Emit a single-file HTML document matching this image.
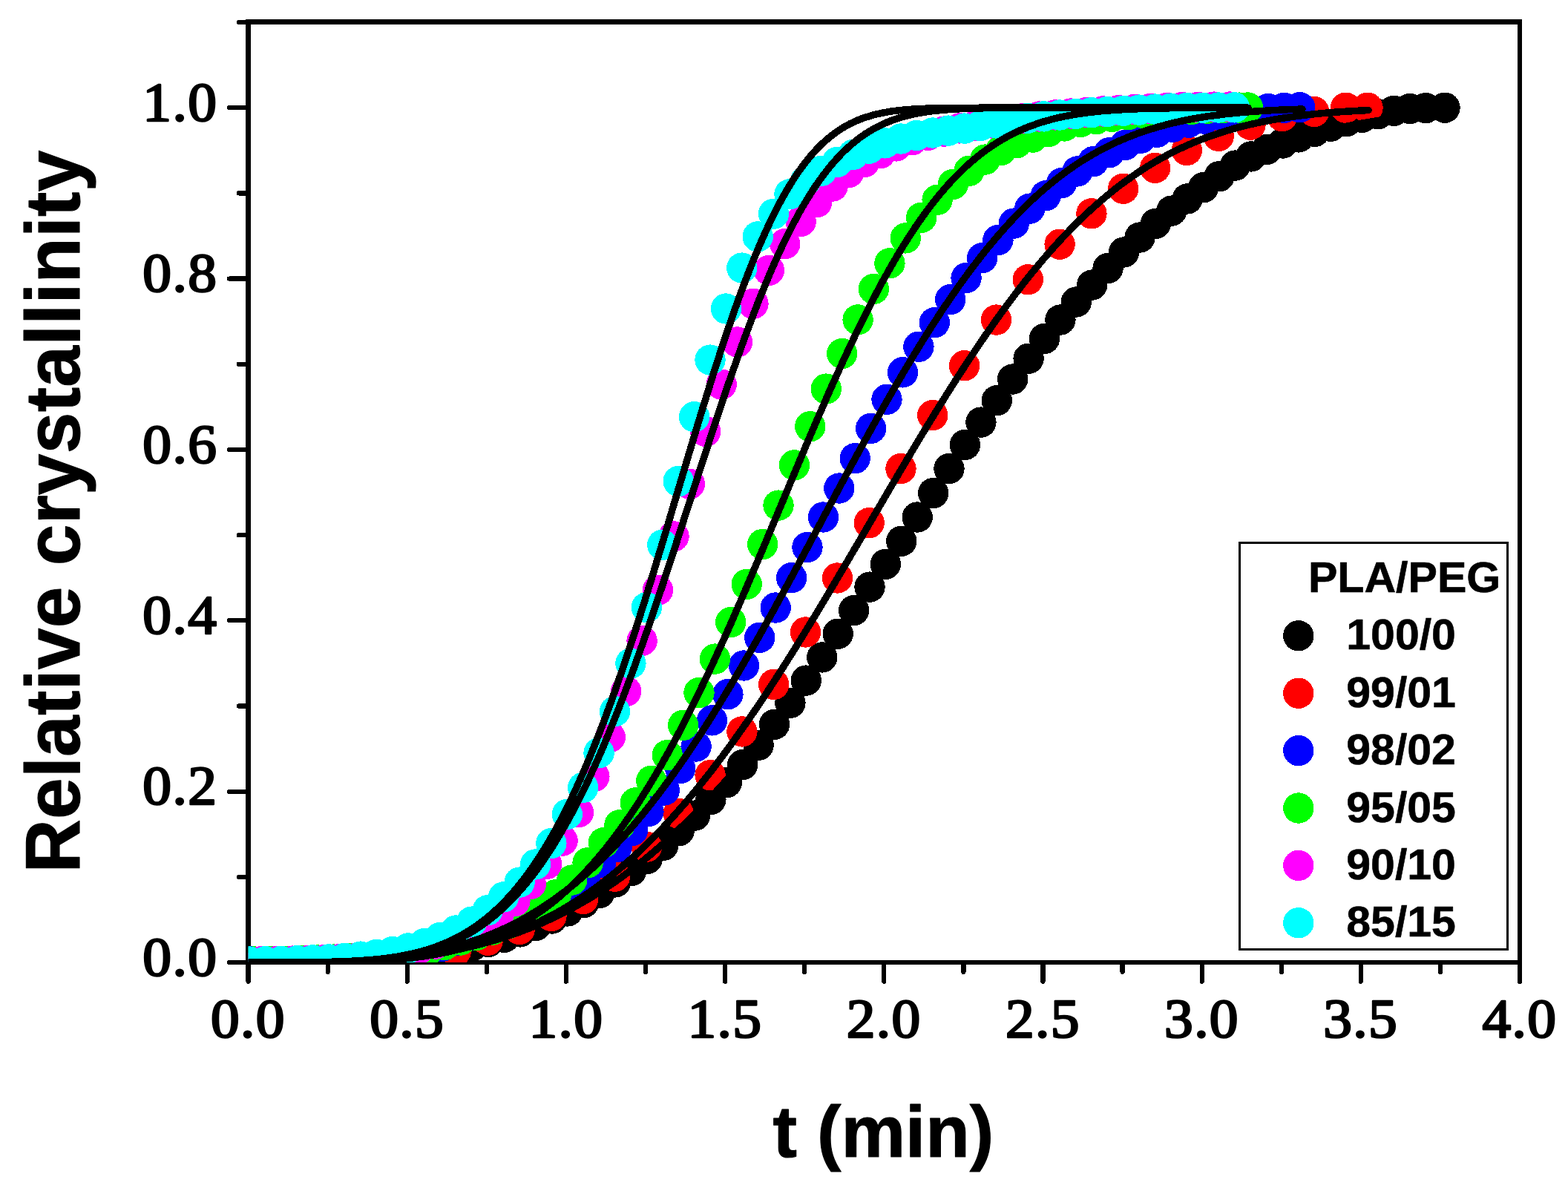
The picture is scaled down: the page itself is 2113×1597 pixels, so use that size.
<!DOCTYPE html>
<html lang="en"><head><meta charset="utf-8"><title>Relative crystallinity vs t (min) - PLA/PEG</title>
<style>html,body{margin:0;padding:0;background:#fff}body{width:2113px;height:1597px;overflow:hidden}svg{display:block}.tick{font-family:"Liberation Serif","DejaVu Serif",serif;font-size:73px;fill:#000;stroke:#000;stroke-width:2.6px;stroke-linejoin:round;letter-spacing:1.3px}.ttl{font-family:"Liberation Sans","DejaVu Sans",sans-serif;font-weight:bold;fill:#000;stroke:#000;stroke-width:1.1px;stroke-linejoin:round}.leg{font-family:"Liberation Sans","DejaVu Sans",sans-serif;font-weight:bold;font-size:58px;fill:#000;stroke:#000;stroke-width:0.6px}</style></head><body>
<svg width="2113" height="1597" viewBox="0 0 2113 1597" shape-rendering="crispEdges">
<rect x="0" y="0" width="2113" height="1597" fill="#fff"/>
<defs><clipPath id="plot"><rect x="334.60" y="29.50" width="1713.40" height="1267.60"/></clipPath></defs>
<g stroke="#000" stroke-width="6.25" stroke-linecap="round" fill="none">
<rect x="334.60" y="29.50" width="1713.40" height="1267.60" stroke-linejoin="miter"/>
<line x1="334.60" y1="1297.10" x2="334.60" y2="1322.70"/>
<line x1="441.69" y1="1297.10" x2="441.69" y2="1309.90"/>
<line x1="548.78" y1="1297.10" x2="548.78" y2="1322.70"/>
<line x1="655.86" y1="1297.10" x2="655.86" y2="1309.90"/>
<line x1="762.95" y1="1297.10" x2="762.95" y2="1322.70"/>
<line x1="870.04" y1="1297.10" x2="870.04" y2="1309.90"/>
<line x1="977.13" y1="1297.10" x2="977.13" y2="1322.70"/>
<line x1="1084.21" y1="1297.10" x2="1084.21" y2="1309.90"/>
<line x1="1191.30" y1="1297.10" x2="1191.30" y2="1322.70"/>
<line x1="1298.39" y1="1297.10" x2="1298.39" y2="1309.90"/>
<line x1="1405.47" y1="1297.10" x2="1405.47" y2="1322.70"/>
<line x1="1512.56" y1="1297.10" x2="1512.56" y2="1309.90"/>
<line x1="1619.65" y1="1297.10" x2="1619.65" y2="1322.70"/>
<line x1="1726.74" y1="1297.10" x2="1726.74" y2="1309.90"/>
<line x1="1833.83" y1="1297.10" x2="1833.83" y2="1322.70"/>
<line x1="1940.91" y1="1297.10" x2="1940.91" y2="1309.90"/>
<line x1="2048.00" y1="1297.10" x2="2048.00" y2="1322.70"/>
<line x1="334.60" y1="1297.10" x2="309.00" y2="1297.10"/>
<line x1="334.60" y1="1181.91" x2="321.80" y2="1181.91"/>
<line x1="334.60" y1="1066.72" x2="309.00" y2="1066.72"/>
<line x1="334.60" y1="951.53" x2="321.80" y2="951.53"/>
<line x1="334.60" y1="836.34" x2="309.00" y2="836.34"/>
<line x1="334.60" y1="721.15" x2="321.80" y2="721.15"/>
<line x1="334.60" y1="605.96" x2="309.00" y2="605.96"/>
<line x1="334.60" y1="490.77" x2="321.80" y2="490.77"/>
<line x1="334.60" y1="375.58" x2="309.00" y2="375.58"/>
<line x1="334.60" y1="260.39" x2="321.80" y2="260.39"/>
<line x1="334.60" y1="145.20" x2="309.00" y2="145.20"/>
<line x1="334.60" y1="30.01" x2="321.80" y2="30.01"/>
</g>
<g clip-path="url(#plot)">
<g fill="#000000">
<circle cx="337.0" cy="1296.0" r="20.7"/><circle cx="358.4" cy="1295.9" r="20.7"/><circle cx="379.8" cy="1295.7" r="20.7"/><circle cx="401.2" cy="1295.4" r="20.7"/><circle cx="422.6" cy="1294.9" r="20.7"/><circle cx="444.1" cy="1294.4" r="20.7"/><circle cx="465.5" cy="1293.7" r="20.7"/><circle cx="486.9" cy="1292.9" r="20.7"/><circle cx="508.3" cy="1292.0" r="20.7"/><circle cx="529.7" cy="1291.0" r="20.7"/><circle cx="551.1" cy="1289.9" r="20.7"/><circle cx="572.5" cy="1287.8" r="20.7"/><circle cx="593.9" cy="1284.3" r="20.7"/><circle cx="615.3" cy="1279.9" r="20.7"/><circle cx="636.7" cy="1274.8" r="20.7"/><circle cx="658.1" cy="1269.5" r="20.7"/><circle cx="679.6" cy="1263.3" r="20.7"/><circle cx="701.0" cy="1255.9" r="20.7"/><circle cx="722.4" cy="1247.4" r="20.7"/><circle cx="743.8" cy="1238.0" r="20.7"/><circle cx="765.2" cy="1227.9" r="20.7"/><circle cx="786.6" cy="1216.5" r="20.7"/><circle cx="808.0" cy="1203.4" r="20.7"/><circle cx="829.4" cy="1188.9" r="20.7"/><circle cx="850.8" cy="1173.5" r="20.7"/><circle cx="872.2" cy="1157.3" r="20.7"/><circle cx="893.7" cy="1139.4" r="20.7"/><circle cx="915.1" cy="1119.7" r="20.7"/><circle cx="936.5" cy="1099.1" r="20.7"/><circle cx="957.9" cy="1077.5" r="20.7"/><circle cx="979.3" cy="1054.7" r="20.7"/><circle cx="1000.7" cy="1030.6" r="20.7"/><circle cx="1022.1" cy="1004.3" r="20.7"/><circle cx="1043.5" cy="976.4" r="20.7"/><circle cx="1064.9" cy="947.3" r="20.7"/><circle cx="1086.3" cy="917.1" r="20.7"/><circle cx="1107.8" cy="885.9" r="20.7"/><circle cx="1129.2" cy="854.2" r="20.7"/><circle cx="1150.6" cy="822.6" r="20.7"/><circle cx="1172.0" cy="791.1" r="20.7"/><circle cx="1193.4" cy="760.3" r="20.7"/><circle cx="1214.8" cy="729.2" r="20.7"/><circle cx="1236.2" cy="697.0" r="20.7"/><circle cx="1257.6" cy="664.5" r="20.7"/><circle cx="1279.0" cy="631.6" r="20.7"/><circle cx="1300.5" cy="599.5" r="20.7"/><circle cx="1321.9" cy="569.1" r="20.7"/><circle cx="1343.3" cy="539.8" r="20.7"/><circle cx="1364.7" cy="511.0" r="20.7"/><circle cx="1386.1" cy="483.2" r="20.7"/><circle cx="1407.5" cy="456.5" r="20.7"/><circle cx="1428.9" cy="431.0" r="20.7"/><circle cx="1450.3" cy="407.0" r="20.7"/><circle cx="1471.7" cy="384.0" r="20.7"/><circle cx="1493.1" cy="361.4" r="20.7"/><circle cx="1514.5" cy="340.0" r="20.7"/><circle cx="1536.0" cy="320.0" r="20.7"/><circle cx="1557.4" cy="301.4" r="20.7"/><circle cx="1578.8" cy="284.1" r="20.7"/><circle cx="1600.2" cy="267.9" r="20.7"/><circle cx="1621.6" cy="252.8" r="20.7"/><circle cx="1643.0" cy="237.7" r="20.7"/><circle cx="1664.4" cy="223.1" r="20.7"/><circle cx="1685.8" cy="210.9" r="20.7"/><circle cx="1707.2" cy="201.4" r="20.7"/><circle cx="1728.7" cy="193.0" r="20.7"/><circle cx="1750.1" cy="184.9" r="20.7"/><circle cx="1771.5" cy="177.5" r="20.7"/><circle cx="1792.9" cy="170.3" r="20.7"/><circle cx="1814.3" cy="163.8" r="20.7"/><circle cx="1835.7" cy="158.3" r="20.7"/><circle cx="1857.1" cy="153.7" r="20.7"/><circle cx="1878.5" cy="149.3" r="20.7"/><circle cx="1899.9" cy="146.5" r="20.7"/><circle cx="1921.3" cy="145.6" r="20.7"/><circle cx="1947.0" cy="145.2" r="20.7"/>
</g>
<g fill="#ff0000">
<circle cx="357.6" cy="1295.9" r="20.7"/><circle cx="400.4" cy="1295.3" r="20.7"/><circle cx="443.2" cy="1294.3" r="20.7"/><circle cx="486.1" cy="1292.8" r="20.7"/><circle cx="528.9" cy="1291.0" r="20.7"/><circle cx="571.7" cy="1287.6" r="20.7"/><circle cx="614.5" cy="1281.4" r="20.7"/><circle cx="657.3" cy="1267.2" r="20.7"/><circle cx="700.2" cy="1252.5" r="20.7"/><circle cx="743.0" cy="1234.5" r="20.7"/><circle cx="785.8" cy="1211.5" r="20.7"/><circle cx="828.6" cy="1181.2" r="20.7"/><circle cx="871.4" cy="1141.2" r="20.7"/><circle cx="914.3" cy="1096.2" r="20.7"/><circle cx="957.1" cy="1044.7" r="20.7"/><circle cx="999.9" cy="985.9" r="20.7"/><circle cx="1042.7" cy="922.4" r="20.7"/><circle cx="1085.5" cy="852.0" r="20.7"/><circle cx="1128.4" cy="779.0" r="20.7"/><circle cx="1171.2" cy="704.7" r="20.7"/><circle cx="1214.0" cy="631.6" r="20.7"/><circle cx="1256.8" cy="559.6" r="20.7"/><circle cx="1299.6" cy="492.8" r="20.7"/><circle cx="1342.5" cy="431.1" r="20.7"/><circle cx="1385.3" cy="376.8" r="20.7"/><circle cx="1428.1" cy="329.2" r="20.7"/><circle cx="1470.9" cy="287.8" r="20.7"/><circle cx="1513.7" cy="254.2" r="20.7"/><circle cx="1556.6" cy="226.3" r="20.7"/><circle cx="1599.4" cy="202.5" r="20.7"/><circle cx="1642.2" cy="183.4" r="20.7"/><circle cx="1685.0" cy="168.2" r="20.7"/><circle cx="1727.8" cy="156.7" r="20.7"/><circle cx="1770.7" cy="150.5" r="20.7"/><circle cx="1813.5" cy="145.2" r="20.7"/><circle cx="1843.0" cy="145.2" r="20.7"/>
</g>
<g fill="#0000ff">
<circle cx="338.6" cy="1296.0" r="20.7"/><circle cx="360.1" cy="1295.9" r="20.7"/><circle cx="381.5" cy="1295.6" r="20.7"/><circle cx="402.9" cy="1295.1" r="20.7"/><circle cx="424.3" cy="1294.4" r="20.7"/><circle cx="445.7" cy="1293.6" r="20.7"/><circle cx="467.1" cy="1292.6" r="20.7"/><circle cx="488.5" cy="1291.4" r="20.7"/><circle cx="509.9" cy="1290.1" r="20.7"/><circle cx="531.3" cy="1288.6" r="20.7"/><circle cx="552.8" cy="1286.5" r="20.7"/><circle cx="574.2" cy="1281.9" r="20.7"/><circle cx="595.6" cy="1275.4" r="20.7"/><circle cx="617.0" cy="1267.8" r="20.7"/><circle cx="638.4" cy="1260.0" r="20.7"/><circle cx="659.8" cy="1252.7" r="20.7"/><circle cx="681.2" cy="1245.0" r="20.7"/><circle cx="702.6" cy="1236.1" r="20.7"/><circle cx="724.0" cy="1225.4" r="20.7"/><circle cx="745.4" cy="1212.7" r="20.7"/><circle cx="766.8" cy="1198.1" r="20.7"/><circle cx="788.3" cy="1181.3" r="20.7"/><circle cx="809.7" cy="1162.4" r="20.7"/><circle cx="831.1" cy="1141.7" r="20.7"/><circle cx="852.5" cy="1119.3" r="20.7"/><circle cx="873.9" cy="1093.6" r="20.7"/><circle cx="895.3" cy="1065.0" r="20.7"/><circle cx="916.7" cy="1035.7" r="20.7"/><circle cx="938.1" cy="1006.0" r="20.7"/><circle cx="959.5" cy="970.9" r="20.7"/><circle cx="980.9" cy="935.7" r="20.7"/><circle cx="1002.4" cy="897.0" r="20.7"/><circle cx="1023.8" cy="859.3" r="20.7"/><circle cx="1045.2" cy="819.0" r="20.7"/><circle cx="1066.6" cy="778.7" r="20.7"/><circle cx="1088.0" cy="737.5" r="20.7"/><circle cx="1109.4" cy="697.0" r="20.7"/><circle cx="1130.8" cy="658.0" r="20.7"/><circle cx="1152.2" cy="617.7" r="20.7"/><circle cx="1173.6" cy="577.4" r="20.7"/><circle cx="1195.0" cy="538.3" r="20.7"/><circle cx="1216.5" cy="501.8" r="20.7"/><circle cx="1237.9" cy="467.3" r="20.7"/><circle cx="1259.3" cy="434.8" r="20.7"/><circle cx="1280.7" cy="403.7" r="20.7"/><circle cx="1302.1" cy="374.5" r="20.7"/><circle cx="1323.5" cy="347.7" r="20.7"/><circle cx="1344.9" cy="323.6" r="20.7"/><circle cx="1366.3" cy="301.1" r="20.7"/><circle cx="1387.7" cy="281.1" r="20.7"/><circle cx="1409.2" cy="263.8" r="20.7"/><circle cx="1430.6" cy="246.6" r="20.7"/><circle cx="1452.0" cy="230.9" r="20.7"/><circle cx="1473.4" cy="217.6" r="20.7"/><circle cx="1494.8" cy="205.8" r="20.7"/><circle cx="1516.2" cy="195.5" r="20.7"/><circle cx="1537.6" cy="186.2" r="20.7"/><circle cx="1559.0" cy="178.3" r="20.7"/><circle cx="1580.4" cy="171.2" r="20.7"/><circle cx="1601.8" cy="165.2" r="20.7"/><circle cx="1623.2" cy="160.1" r="20.7"/><circle cx="1644.7" cy="155.8" r="20.7"/><circle cx="1666.1" cy="151.9" r="20.7"/><circle cx="1687.5" cy="148.6" r="20.7"/><circle cx="1708.9" cy="146.6" r="20.7"/><circle cx="1730.3" cy="145.3" r="20.7"/><circle cx="1751.7" cy="144.7" r="20.7"/>
</g>
<g fill="#00ff00">
<circle cx="342.5" cy="1296.0" r="20.7"/><circle cx="363.9" cy="1295.8" r="20.7"/><circle cx="385.3" cy="1295.4" r="20.7"/><circle cx="406.7" cy="1294.8" r="20.7"/><circle cx="428.1" cy="1294.0" r="20.7"/><circle cx="449.6" cy="1293.1" r="20.7"/><circle cx="471.0" cy="1291.9" r="20.7"/><circle cx="492.4" cy="1290.6" r="20.7"/><circle cx="513.8" cy="1289.2" r="20.7"/><circle cx="535.2" cy="1287.5" r="20.7"/><circle cx="556.6" cy="1284.4" r="20.7"/><circle cx="578.0" cy="1279.5" r="20.7"/><circle cx="599.4" cy="1273.5" r="20.7"/><circle cx="620.8" cy="1267.0" r="20.7"/><circle cx="642.2" cy="1260.3" r="20.7"/><circle cx="663.6" cy="1253.2" r="20.7"/><circle cx="685.1" cy="1244.8" r="20.7"/><circle cx="706.5" cy="1234.7" r="20.7"/><circle cx="727.9" cy="1221.5" r="20.7"/><circle cx="749.3" cy="1205.6" r="20.7"/><circle cx="770.7" cy="1186.0" r="20.7"/><circle cx="792.1" cy="1162.7" r="20.7"/><circle cx="813.5" cy="1135.6" r="20.7"/><circle cx="834.9" cy="1111.8" r="20.7"/><circle cx="856.3" cy="1081.9" r="20.7"/><circle cx="877.8" cy="1052.2" r="20.7"/><circle cx="899.2" cy="1017.7" r="20.7"/><circle cx="920.6" cy="977.4" r="20.7"/><circle cx="942.0" cy="933.5" r="20.7"/><circle cx="963.4" cy="888.1" r="20.7"/><circle cx="984.8" cy="838.5" r="20.7"/><circle cx="1006.2" cy="787.4" r="20.7"/><circle cx="1027.6" cy="733.5" r="20.7"/><circle cx="1049.0" cy="681.1" r="20.7"/><circle cx="1070.4" cy="626.9" r="20.7"/><circle cx="1091.8" cy="574.8" r="20.7"/><circle cx="1113.3" cy="524.1" r="20.7"/><circle cx="1134.7" cy="476.5" r="20.7"/><circle cx="1156.1" cy="430.9" r="20.7"/><circle cx="1177.5" cy="389.5" r="20.7"/><circle cx="1198.9" cy="354.8" r="20.7"/><circle cx="1220.3" cy="320.9" r="20.7"/><circle cx="1241.7" cy="293.2" r="20.7"/><circle cx="1263.1" cy="269.3" r="20.7"/><circle cx="1284.5" cy="248.3" r="20.7"/><circle cx="1306.0" cy="230.3" r="20.7"/><circle cx="1327.4" cy="215.1" r="20.7"/><circle cx="1348.8" cy="202.6" r="20.7"/><circle cx="1370.2" cy="192.6" r="20.7"/><circle cx="1391.6" cy="185.1" r="20.7"/><circle cx="1413.0" cy="177.4" r="20.7"/><circle cx="1434.4" cy="170.0" r="20.7"/><circle cx="1455.8" cy="164.5" r="20.7"/><circle cx="1477.2" cy="160.6" r="20.7"/><circle cx="1498.6" cy="157.4" r="20.7"/><circle cx="1520.0" cy="154.8" r="20.7"/><circle cx="1541.5" cy="152.6" r="20.7"/><circle cx="1562.9" cy="150.6" r="20.7"/><circle cx="1584.3" cy="148.8" r="20.7"/><circle cx="1605.7" cy="147.4" r="20.7"/><circle cx="1627.1" cy="146.2" r="20.7"/><circle cx="1648.5" cy="145.4" r="20.7"/><circle cx="1669.9" cy="145.1" r="20.7"/><circle cx="1681.5" cy="145.0" r="20.7"/>
</g>
<g fill="#ff00ff">
<circle cx="351.3" cy="1295.9" r="20.7"/><circle cx="372.7" cy="1295.6" r="20.7"/><circle cx="394.1" cy="1295.1" r="20.7"/><circle cx="415.5" cy="1294.4" r="20.7"/><circle cx="436.9" cy="1293.6" r="20.7"/><circle cx="458.4" cy="1292.5" r="20.7"/><circle cx="479.8" cy="1291.3" r="20.7"/><circle cx="501.2" cy="1289.9" r="20.7"/><circle cx="522.6" cy="1287.5" r="20.7"/><circle cx="544.0" cy="1283.5" r="20.7"/><circle cx="565.4" cy="1278.2" r="20.7"/><circle cx="586.8" cy="1272.1" r="20.7"/><circle cx="608.2" cy="1265.2" r="20.7"/><circle cx="629.6" cy="1256.3" r="20.7"/><circle cx="651.0" cy="1244.9" r="20.7"/><circle cx="672.5" cy="1231.3" r="20.7"/><circle cx="693.9" cy="1214.4" r="20.7"/><circle cx="715.3" cy="1191.5" r="20.7"/><circle cx="736.7" cy="1164.4" r="20.7"/><circle cx="758.1" cy="1133.0" r="20.7"/><circle cx="779.5" cy="1094.7" r="20.7"/><circle cx="800.9" cy="1046.5" r="20.7"/><circle cx="822.3" cy="993.4" r="20.7"/><circle cx="843.7" cy="931.7" r="20.7"/><circle cx="865.1" cy="863.6" r="20.7"/><circle cx="886.5" cy="795.4" r="20.7"/><circle cx="908.0" cy="722.9" r="20.7"/><circle cx="929.4" cy="652.3" r="20.7"/><circle cx="950.8" cy="581.5" r="20.7"/><circle cx="972.2" cy="518.1" r="20.7"/><circle cx="993.6" cy="461.0" r="20.7"/><circle cx="1015.0" cy="409.3" r="20.7"/><circle cx="1036.4" cy="364.3" r="20.7"/><circle cx="1057.8" cy="328.6" r="20.7"/><circle cx="1079.2" cy="298.5" r="20.7"/><circle cx="1100.7" cy="272.7" r="20.7"/><circle cx="1122.1" cy="251.0" r="20.7"/><circle cx="1143.5" cy="232.6" r="20.7"/><circle cx="1164.9" cy="218.6" r="20.7"/><circle cx="1186.3" cy="206.8" r="20.7"/><circle cx="1207.7" cy="196.9" r="20.7"/><circle cx="1229.1" cy="188.8" r="20.7"/><circle cx="1250.5" cy="182.4" r="20.7"/><circle cx="1271.9" cy="177.1" r="20.7"/><circle cx="1293.3" cy="172.9" r="20.7"/><circle cx="1314.8" cy="169.3" r="20.7"/><circle cx="1336.2" cy="165.9" r="20.7"/><circle cx="1357.6" cy="162.5" r="20.7"/><circle cx="1379.0" cy="159.5" r="20.7"/><circle cx="1400.4" cy="157.0" r="20.7"/><circle cx="1421.8" cy="154.9" r="20.7"/><circle cx="1443.2" cy="153.0" r="20.7"/><circle cx="1464.6" cy="151.3" r="20.7"/><circle cx="1486.0" cy="149.9" r="20.7"/><circle cx="1507.4" cy="148.6" r="20.7"/><circle cx="1528.8" cy="147.5" r="20.7"/><circle cx="1550.3" cy="146.5" r="20.7"/><circle cx="1571.7" cy="145.5" r="20.7"/><circle cx="1593.1" cy="144.6" r="20.7"/><circle cx="1614.5" cy="144.3" r="20.7"/><circle cx="1635.9" cy="144.1" r="20.7"/><circle cx="1657.3" cy="144.0" r="20.7"/>
</g>
<g fill="#00ffff">
<circle cx="336.1" cy="1296.0" r="20.7"/><circle cx="357.5" cy="1295.8" r="20.7"/><circle cx="378.9" cy="1295.4" r="20.7"/><circle cx="400.3" cy="1294.7" r="20.7"/><circle cx="421.7" cy="1293.9" r="20.7"/><circle cx="443.2" cy="1292.9" r="20.7"/><circle cx="464.6" cy="1291.4" r="20.7"/><circle cx="486.0" cy="1289.1" r="20.7"/><circle cx="507.4" cy="1286.3" r="20.7"/><circle cx="528.8" cy="1282.6" r="20.7"/><circle cx="550.2" cy="1277.9" r="20.7"/><circle cx="571.6" cy="1271.7" r="20.7"/><circle cx="593.0" cy="1263.6" r="20.7"/><circle cx="614.4" cy="1254.0" r="20.7"/><circle cx="635.8" cy="1242.1" r="20.7"/><circle cx="657.2" cy="1226.7" r="20.7"/><circle cx="678.7" cy="1208.9" r="20.7"/><circle cx="700.1" cy="1189.1" r="20.7"/><circle cx="721.5" cy="1165.0" r="20.7"/><circle cx="742.9" cy="1136.5" r="20.7"/><circle cx="764.3" cy="1097.3" r="20.7"/><circle cx="785.7" cy="1061.4" r="20.7"/><circle cx="807.1" cy="1014.7" r="20.7"/><circle cx="828.5" cy="958.7" r="20.7"/><circle cx="849.9" cy="894.1" r="20.7"/><circle cx="871.4" cy="818.6" r="20.7"/><circle cx="892.8" cy="734.2" r="20.7"/><circle cx="914.2" cy="648.6" r="20.7"/><circle cx="935.6" cy="561.8" r="20.7"/><circle cx="957.0" cy="485.1" r="20.7"/><circle cx="978.4" cy="416.0" r="20.7"/><circle cx="999.8" cy="361.1" r="20.7"/><circle cx="1021.2" cy="318.9" r="20.7"/><circle cx="1042.6" cy="288.2" r="20.7"/><circle cx="1064.0" cy="261.8" r="20.7"/><circle cx="1085.5" cy="244.1" r="20.7"/><circle cx="1106.9" cy="230.3" r="20.7"/><circle cx="1128.3" cy="218.3" r="20.7"/><circle cx="1149.7" cy="208.4" r="20.7"/><circle cx="1171.1" cy="200.2" r="20.7"/><circle cx="1192.5" cy="192.9" r="20.7"/><circle cx="1213.9" cy="187.0" r="20.7"/><circle cx="1235.3" cy="182.5" r="20.7"/><circle cx="1256.7" cy="179.0" r="20.7"/><circle cx="1278.1" cy="176.1" r="20.7"/><circle cx="1299.6" cy="173.1" r="20.7"/><circle cx="1321.0" cy="169.6" r="20.7"/><circle cx="1342.4" cy="165.9" r="20.7"/><circle cx="1363.8" cy="162.4" r="20.7"/><circle cx="1385.2" cy="159.2" r="20.7"/><circle cx="1406.6" cy="156.9" r="20.7"/><circle cx="1428.0" cy="155.0" r="20.7"/><circle cx="1449.4" cy="153.3" r="20.7"/><circle cx="1470.8" cy="151.8" r="20.7"/><circle cx="1492.2" cy="150.5" r="20.7"/><circle cx="1513.7" cy="149.2" r="20.7"/><circle cx="1535.1" cy="148.1" r="20.7"/><circle cx="1556.5" cy="147.1" r="20.7"/><circle cx="1577.9" cy="146.1" r="20.7"/><circle cx="1599.3" cy="145.4" r="20.7"/><circle cx="1620.7" cy="145.2" r="20.7"/><circle cx="1642.1" cy="145.0" r="20.7"/><circle cx="1663.5" cy="144.9" r="20.7"/>
</g>
<g fill="none" stroke="#000" stroke-width="9.50" stroke-linecap="round" stroke-linejoin="round">
<path d="M337.0 1297.1 L342.4 1297.1 L347.8 1297.1 L353.2 1297.1 L358.5 1297.1 L363.9 1297.1 L369.3 1297.1 L374.7 1297.1 L380.1 1297.1 L385.5 1297.0 L390.8 1297.0 L396.2 1297.0 L401.6 1297.0 L407.0 1296.9 L412.4 1296.9 L417.8 1296.8 L423.2 1296.7 L428.5 1296.6 L433.9 1296.6 L439.3 1296.4 L444.7 1296.3 L450.1 1296.2 L455.5 1296.1 L460.8 1295.9 L466.2 1295.7 L471.6 1295.5 L477.0 1295.3 L482.4 1295.1 L487.8 1294.8 L493.2 1294.5 L498.5 1294.2 L503.9 1293.9 L509.3 1293.5 L514.7 1293.1 L520.1 1292.7 L525.5 1292.3 L530.8 1291.8 L536.2 1291.3 L541.6 1290.8 L547.0 1290.3 L552.4 1289.7 L557.8 1289.0 L563.2 1288.4 L568.5 1287.7 L573.9 1286.9 L579.3 1286.2 L584.7 1285.3 L590.1 1284.5 L595.5 1283.6 L600.8 1282.6 L606.2 1281.6 L611.6 1280.6 L617.0 1279.5 L622.4 1278.4 L627.8 1277.2 L633.2 1276.0 L638.5 1274.7 L643.9 1273.4 L649.3 1272.0 L654.7 1270.5 L660.1 1269.0 L665.5 1267.5 L670.8 1265.8 L676.2 1264.2 L681.6 1262.4 L687.0 1260.6 L692.4 1258.8 L697.8 1256.9 L703.2 1254.9 L708.5 1252.8 L713.9 1250.7 L719.3 1248.5 L724.7 1246.3 L730.1 1244.0 L735.5 1241.6 L740.8 1239.1 L746.2 1236.6 L751.6 1234.0 L757.0 1231.3 L762.4 1228.6 L767.8 1225.8 L773.2 1222.9 L778.5 1219.9 L783.9 1216.8 L789.3 1213.7 L794.7 1210.5 L800.1 1207.2 L805.5 1203.9 L810.8 1200.4 L816.2 1196.9 L821.6 1193.3 L827.0 1189.6 L832.4 1185.8 L837.8 1182.0 L843.2 1178.0 L848.5 1174.0 L853.9 1169.9 L859.3 1165.8 L864.7 1161.5 L870.1 1157.1 L875.5 1152.7 L880.8 1148.2 L886.2 1143.6 L891.6 1138.9 L897.0 1134.1 L902.4 1129.3 L907.8 1124.4 L913.2 1119.3 L918.5 1114.2 L923.9 1109.1 L929.3 1103.8 L934.7 1098.4 L940.1 1093.0 L945.5 1087.5 L950.8 1081.9 L956.2 1076.2 L961.6 1070.5 L967.0 1064.6 L972.4 1058.7 L977.8 1052.7 L983.2 1046.6 L988.5 1040.5 L993.9 1034.3 L999.3 1028.0 L1004.7 1021.6 L1010.1 1015.1 L1015.5 1008.6 L1020.8 1002.0 L1026.2 995.4 L1031.6 988.7 L1037.0 981.9 L1042.4 975.0 L1047.8 968.1 L1053.2 961.1 L1058.5 954.0 L1063.9 946.9 L1069.3 939.7 L1074.7 932.5 L1080.1 925.2 L1085.5 917.9 L1090.8 910.5 L1096.2 903.0 L1101.6 895.5 L1107.0 888.0 L1112.4 880.4 L1117.8 872.8 L1123.2 865.1 L1128.5 857.4 L1133.9 849.6 L1139.3 841.9 L1144.7 834.0 L1150.1 826.2 L1155.5 818.3 L1160.8 810.4 L1166.2 802.4 L1171.6 794.5 L1177.0 786.5 L1182.4 778.5 L1187.8 770.5 L1193.2 762.4 L1198.5 754.4 L1203.9 746.3 L1209.3 738.3 L1214.7 730.2 L1220.1 722.1 L1225.5 714.0 L1230.8 705.9 L1236.2 697.9 L1241.6 689.8 L1247.0 681.7 L1252.4 673.7 L1257.8 665.7 L1263.2 657.6 L1268.5 649.6 L1273.9 641.6 L1279.3 633.7 L1284.7 625.7 L1290.1 617.8 L1295.5 609.9 L1300.8 602.1 L1306.2 594.2 L1311.6 586.5 L1317.0 578.7 L1322.4 571.0 L1327.8 563.3 L1333.2 555.7 L1338.5 548.1 L1343.9 540.6 L1349.3 533.1 L1354.7 525.7 L1360.1 518.3 L1365.5 510.9 L1370.8 503.7 L1376.2 496.5 L1381.6 489.3 L1387.0 482.2 L1392.4 475.2 L1397.8 468.2 L1403.2 461.3 L1408.5 454.5 L1413.9 447.8 L1419.3 441.1 L1424.7 434.5 L1430.1 427.9 L1435.5 421.5 L1440.8 415.1 L1446.2 408.8 L1451.6 402.5 L1457.0 396.4 L1462.4 390.3 L1467.8 384.3 L1473.2 378.4 L1478.5 372.6 L1483.9 366.9 L1489.3 361.2 L1494.7 355.6 L1500.1 350.1 L1505.5 344.7 L1510.8 339.4 L1516.2 334.2 L1521.6 329.1 L1527.0 324.0 L1532.4 319.0 L1537.8 314.2 L1543.2 309.4 L1548.5 304.7 L1553.9 300.1 L1559.3 295.5 L1564.7 291.1 L1570.1 286.7 L1575.5 282.5 L1580.8 278.3 L1586.2 274.2 L1591.6 270.2 L1597.0 266.3 L1602.4 262.5 L1607.8 258.7 L1613.2 255.1 L1618.5 251.5 L1623.9 248.0 L1629.3 244.6 L1634.7 241.2 L1640.1 238.0 L1645.5 234.8 L1650.8 231.7 L1656.2 228.7 L1661.6 225.8 L1667.0 222.9 L1672.4 220.1 L1677.8 217.4 L1683.2 214.8 L1688.5 212.2 L1693.9 209.7 L1699.3 207.3 L1704.7 205.0 L1710.1 202.7 L1715.5 200.5 L1720.8 198.3 L1726.2 196.3 L1731.6 194.2 L1737.0 192.3 L1742.4 190.4 L1747.8 188.6 L1753.2 186.8 L1758.5 185.1 L1763.9 183.4 L1769.3 181.8 L1774.7 180.2 L1780.1 178.8 L1785.5 177.3 L1790.8 175.9 L1796.2 174.6 L1801.6 173.3 L1807.0 172.0 L1812.4 170.8 L1817.8 169.6 L1823.2 168.5 L1828.5 167.5 L1833.9 166.4 L1839.3 165.4 L1844.7 164.5 L1850.1 163.6 L1855.5 162.7 L1860.8 161.8 L1866.2 161.0 L1871.6 160.2 L1877.0 159.5 L1882.4 158.8 L1887.8 158.1 L1893.2 157.4 L1898.5 156.8 L1903.9 156.2 L1909.3 155.6 L1914.7 155.1 L1920.1 154.6 L1925.5 154.1 L1930.8 153.6 L1936.2 153.1 L1941.6 152.7 L1947.0 152.3"/>
<path d="M358.0 1297.1 L363.0 1297.1 L367.9 1297.1 L372.9 1297.1 L377.9 1297.1 L382.8 1297.1 L387.8 1297.1 L392.8 1297.0 L397.8 1297.0 L402.7 1297.0 L407.7 1297.0 L412.7 1296.9 L417.6 1296.9 L422.6 1296.8 L427.6 1296.8 L432.5 1296.7 L437.5 1296.6 L442.5 1296.5 L447.5 1296.4 L452.4 1296.3 L457.4 1296.2 L462.4 1296.1 L467.3 1295.9 L472.3 1295.7 L477.3 1295.5 L482.2 1295.3 L487.2 1295.1 L492.2 1294.9 L497.2 1294.6 L502.1 1294.4 L507.1 1294.1 L512.1 1293.7 L517.0 1293.4 L522.0 1293.0 L527.0 1292.6 L531.9 1292.2 L536.9 1291.7 L541.9 1291.3 L546.9 1290.8 L551.8 1290.2 L556.8 1289.6 L561.8 1289.0 L566.7 1288.4 L571.7 1287.7 L576.7 1287.0 L581.6 1286.2 L586.6 1285.5 L591.6 1284.6 L596.6 1283.7 L601.5 1282.8 L606.5 1281.9 L611.5 1280.9 L616.4 1279.8 L621.4 1278.7 L626.4 1277.6 L631.3 1276.4 L636.3 1275.1 L641.3 1273.8 L646.3 1272.5 L651.2 1271.1 L656.2 1269.6 L661.2 1268.1 L666.1 1266.5 L671.1 1264.9 L676.1 1263.2 L681.0 1261.4 L686.0 1259.6 L691.0 1257.7 L696.0 1255.8 L700.9 1253.8 L705.9 1251.7 L710.9 1249.5 L715.8 1247.3 L720.8 1245.0 L725.8 1242.7 L730.7 1240.2 L735.7 1237.7 L740.7 1235.2 L745.7 1232.5 L750.6 1229.8 L755.6 1227.0 L760.6 1224.1 L765.5 1221.1 L770.5 1218.1 L775.5 1214.9 L780.4 1211.7 L785.4 1208.4 L790.4 1205.1 L795.4 1201.6 L800.3 1198.1 L805.3 1194.4 L810.3 1190.7 L815.2 1186.9 L820.2 1183.0 L825.2 1179.1 L830.1 1175.0 L835.1 1170.8 L840.1 1166.6 L845.1 1162.3 L850.0 1157.8 L855.0 1153.3 L860.0 1148.7 L864.9 1144.0 L869.9 1139.3 L874.9 1134.4 L879.8 1129.4 L884.8 1124.4 L889.8 1119.2 L894.7 1114.0 L899.7 1108.7 L904.7 1103.2 L909.7 1097.7 L914.6 1092.1 L919.6 1086.4 L924.6 1080.7 L929.5 1074.8 L934.5 1068.8 L939.5 1062.8 L944.4 1056.7 L949.4 1050.4 L954.4 1044.1 L959.4 1037.8 L964.3 1031.3 L969.3 1024.7 L974.3 1018.1 L979.2 1011.4 L984.2 1004.6 L989.2 997.7 L994.1 990.7 L999.1 983.7 L1004.1 976.6 L1009.1 969.4 L1014.0 962.2 L1019.0 954.9 L1024.0 947.5 L1028.9 940.0 L1033.9 932.5 L1038.9 924.9 L1043.8 917.2 L1048.8 909.5 L1053.8 901.7 L1058.8 893.9 L1063.7 886.0 L1068.7 878.1 L1073.7 870.1 L1078.6 862.1 L1083.6 854.0 L1088.6 845.8 L1093.5 837.7 L1098.5 829.5 L1103.5 821.2 L1108.5 812.9 L1113.4 804.6 L1118.4 796.3 L1123.4 787.9 L1128.3 779.5 L1133.3 771.1 L1138.3 762.6 L1143.2 754.2 L1148.2 745.7 L1153.2 737.2 L1158.2 728.7 L1163.1 720.2 L1168.1 711.7 L1173.1 703.2 L1178.0 694.7 L1183.0 686.2 L1188.0 677.7 L1192.9 669.2 L1197.9 660.7 L1202.9 652.2 L1207.9 643.8 L1212.8 635.4 L1217.8 627.0 L1222.8 618.6 L1227.7 610.2 L1232.7 601.9 L1237.7 593.6 L1242.6 585.4 L1247.6 577.2 L1252.6 569.0 L1257.6 560.9 L1262.5 552.8 L1267.5 544.8 L1272.5 536.8 L1277.4 528.9 L1282.4 521.0 L1287.4 513.2 L1292.3 505.5 L1297.3 497.8 L1302.3 490.2 L1307.3 482.6 L1312.2 475.1 L1317.2 467.7 L1322.2 460.4 L1327.1 453.1 L1332.1 446.0 L1337.1 438.9 L1342.0 431.8 L1347.0 424.9 L1352.0 418.0 L1356.9 411.3 L1361.9 404.6 L1366.9 398.0 L1371.9 391.5 L1376.8 385.1 L1381.8 378.7 L1386.8 372.5 L1391.7 366.4 L1396.7 360.3 L1401.7 354.4 L1406.6 348.5 L1411.6 342.8 L1416.6 337.1 L1421.6 331.5 L1426.5 326.1 L1431.5 320.7 L1436.5 315.5 L1441.4 310.3 L1446.4 305.2 L1451.4 300.3 L1456.3 295.4 L1461.3 290.6 L1466.3 286.0 L1471.3 281.4 L1476.2 277.0 L1481.2 272.6 L1486.2 268.3 L1491.1 264.2 L1496.1 260.1 L1501.1 256.1 L1506.0 252.2 L1511.0 248.4 L1516.0 244.8 L1521.0 241.2 L1525.9 237.7 L1530.9 234.3 L1535.9 230.9 L1540.8 227.7 L1545.8 224.6 L1550.8 221.5 L1555.7 218.6 L1560.7 215.7 L1565.7 212.9 L1570.7 210.2 L1575.6 207.6 L1580.6 205.0 L1585.6 202.6 L1590.5 200.2 L1595.5 197.9 L1600.5 195.6 L1605.4 193.5 L1610.4 191.4 L1615.4 189.3 L1620.4 187.4 L1625.3 185.5 L1630.3 183.7 L1635.3 182.0 L1640.2 180.3 L1645.2 178.6 L1650.2 177.1 L1655.1 175.6 L1660.1 174.1 L1665.1 172.7 L1670.1 171.4 L1675.0 170.1 L1680.0 168.9 L1685.0 167.7 L1689.9 166.6 L1694.9 165.5 L1699.9 164.4 L1704.8 163.5 L1709.8 162.5 L1714.8 161.6 L1719.8 160.7 L1724.7 159.9 L1729.7 159.1 L1734.7 158.3 L1739.6 157.6 L1744.6 156.9 L1749.6 156.3 L1754.5 155.6 L1759.5 155.0 L1764.5 154.5 L1769.5 153.9 L1774.4 153.4 L1779.4 152.9 L1784.4 152.5 L1789.3 152.0 L1794.3 151.6 L1799.3 151.2 L1804.2 150.9 L1809.2 150.5 L1814.2 150.2 L1819.2 149.9 L1824.1 149.6 L1829.1 149.3 L1834.1 149.0 L1839.0 148.8 L1844.0 148.5"/>
<path d="M339.0 1297.1 L343.7 1297.1 L348.5 1297.1 L353.2 1297.1 L357.9 1297.1 L362.7 1297.1 L367.4 1297.1 L372.2 1297.1 L376.9 1297.1 L381.6 1297.1 L386.4 1297.0 L391.1 1297.0 L395.8 1297.0 L400.6 1297.0 L405.3 1296.9 L410.0 1296.9 L414.8 1296.8 L419.5 1296.8 L424.2 1296.7 L429.0 1296.6 L433.7 1296.6 L438.5 1296.5 L443.2 1296.4 L447.9 1296.2 L452.7 1296.1 L457.4 1295.9 L462.1 1295.8 L466.9 1295.6 L471.6 1295.4 L476.3 1295.2 L481.1 1294.9 L485.8 1294.7 L490.5 1294.4 L495.3 1294.1 L500.0 1293.7 L504.8 1293.4 L509.5 1293.0 L514.2 1292.6 L519.0 1292.2 L523.7 1291.7 L528.4 1291.2 L533.2 1290.7 L537.9 1290.1 L542.6 1289.5 L547.4 1288.9 L552.1 1288.2 L556.8 1287.5 L561.6 1286.7 L566.3 1285.9 L571.1 1285.1 L575.8 1284.2 L580.5 1283.3 L585.3 1282.3 L590.0 1281.3 L594.7 1280.2 L599.5 1279.1 L604.2 1277.9 L608.9 1276.7 L613.7 1275.4 L618.4 1274.1 L623.1 1272.7 L627.9 1271.3 L632.6 1269.8 L637.4 1268.2 L642.1 1266.6 L646.8 1264.9 L651.6 1263.1 L656.3 1261.3 L661.0 1259.4 L665.8 1257.4 L670.5 1255.4 L675.2 1253.3 L680.0 1251.1 L684.7 1248.9 L689.4 1246.6 L694.2 1244.2 L698.9 1241.7 L703.7 1239.1 L708.4 1236.5 L713.1 1233.8 L717.9 1231.0 L722.6 1228.1 L727.3 1225.2 L732.1 1222.1 L736.8 1219.0 L741.5 1215.7 L746.3 1212.4 L751.0 1209.0 L755.7 1205.5 L760.5 1202.0 L765.2 1198.3 L770.0 1194.5 L774.7 1190.7 L779.4 1186.7 L784.2 1182.7 L788.9 1178.5 L793.6 1174.3 L798.4 1170.0 L803.1 1165.5 L807.8 1161.0 L812.6 1156.4 L817.3 1151.7 L822.1 1146.8 L826.8 1141.9 L831.5 1136.9 L836.3 1131.8 L841.0 1126.6 L845.7 1121.3 L850.5 1115.8 L855.2 1110.3 L859.9 1104.7 L864.7 1099.0 L869.4 1093.2 L874.1 1087.3 L878.9 1081.3 L883.6 1075.2 L888.4 1069.0 L893.1 1062.7 L897.8 1056.3 L902.6 1049.9 L907.3 1043.3 L912.0 1036.6 L916.8 1029.9 L921.5 1023.0 L926.2 1016.1 L931.0 1009.1 L935.7 1002.0 L940.4 994.8 L945.2 987.5 L949.9 980.1 L954.7 972.7 L959.4 965.2 L964.1 957.6 L968.9 949.9 L973.6 942.1 L978.3 934.3 L983.1 926.4 L987.8 918.4 L992.5 910.4 L997.3 902.3 L1002.0 894.1 L1006.7 885.9 L1011.5 877.7 L1016.2 869.3 L1021.0 860.9 L1025.7 852.5 L1030.4 844.0 L1035.2 835.5 L1039.9 826.9 L1044.6 818.3 L1049.4 809.6 L1054.1 800.9 L1058.8 792.2 L1063.6 783.5 L1068.3 774.7 L1073.0 765.9 L1077.8 757.1 L1082.5 748.2 L1087.3 739.4 L1092.0 730.5 L1096.7 721.6 L1101.5 712.8 L1106.2 703.9 L1110.9 695.0 L1115.7 686.1 L1120.4 677.2 L1125.1 668.4 L1129.9 659.5 L1134.6 650.7 L1139.3 641.9 L1144.1 633.1 L1148.8 624.3 L1153.6 615.6 L1158.3 606.9 L1163.0 598.2 L1167.8 589.6 L1172.5 581.0 L1177.2 572.4 L1182.0 563.9 L1186.7 555.5 L1191.4 547.1 L1196.2 538.7 L1200.9 530.5 L1205.6 522.2 L1210.4 514.1 L1215.1 506.0 L1219.9 497.9 L1224.6 490.0 L1229.3 482.1 L1234.1 474.3 L1238.8 466.5 L1243.5 458.9 L1248.3 451.3 L1253.0 443.8 L1257.7 436.4 L1262.5 429.1 L1267.2 421.9 L1271.9 414.8 L1276.7 407.8 L1281.4 400.8 L1286.2 394.0 L1290.9 387.2 L1295.6 380.6 L1300.4 374.0 L1305.1 367.6 L1309.8 361.3 L1314.6 355.0 L1319.3 348.9 L1324.0 342.9 L1328.8 337.0 L1333.5 331.1 L1338.3 325.4 L1343.0 319.9 L1347.7 314.4 L1352.5 309.0 L1357.2 303.7 L1361.9 298.6 L1366.7 293.5 L1371.4 288.6 L1376.1 283.7 L1380.9 279.0 L1385.6 274.4 L1390.3 269.9 L1395.1 265.5 L1399.8 261.2 L1404.6 257.0 L1409.3 252.9 L1414.0 249.0 L1418.8 245.1 L1423.5 241.3 L1428.2 237.7 L1433.0 234.1 L1437.7 230.6 L1442.4 227.3 L1447.2 224.0 L1451.9 220.8 L1456.6 217.7 L1461.4 214.8 L1466.1 211.9 L1470.9 209.1 L1475.6 206.4 L1480.3 203.7 L1485.1 201.2 L1489.8 198.7 L1494.5 196.4 L1499.3 194.1 L1504.0 191.9 L1508.7 189.7 L1513.5 187.7 L1518.2 185.7 L1522.9 183.8 L1527.7 182.0 L1532.4 180.2 L1537.2 178.5 L1541.9 176.9 L1546.6 175.3 L1551.4 173.8 L1556.1 172.4 L1560.8 171.0 L1565.6 169.7 L1570.3 168.4 L1575.0 167.2 L1579.8 166.0 L1584.5 164.9 L1589.2 163.8 L1594.0 162.8 L1598.7 161.8 L1603.5 160.9 L1608.2 160.0 L1612.9 159.2 L1617.7 158.4 L1622.4 157.6 L1627.1 156.9 L1631.9 156.2 L1636.6 155.6 L1641.3 155.0 L1646.1 154.4 L1650.8 153.8 L1655.5 153.3 L1660.3 152.8 L1665.0 152.3 L1669.8 151.9 L1674.5 151.4 L1679.2 151.0 L1684.0 150.7 L1688.7 150.3 L1693.4 150.0 L1698.2 149.6 L1702.9 149.4 L1707.6 149.1 L1712.4 148.8 L1717.1 148.6 L1721.8 148.3 L1726.6 148.1 L1731.3 147.9 L1736.1 147.7 L1740.8 147.5 L1745.5 147.4 L1750.3 147.2 L1755.0 147.1"/>
<path d="M342.0 1297.1 L346.5 1297.1 L351.0 1297.1 L355.4 1297.1 L359.9 1297.1 L364.4 1297.1 L368.9 1297.1 L373.4 1297.1 L377.9 1297.1 L382.3 1297.1 L386.8 1297.1 L391.3 1297.1 L395.8 1297.1 L400.3 1297.1 L404.7 1297.0 L409.2 1297.0 L413.7 1297.0 L418.2 1297.0 L422.7 1297.0 L427.2 1296.9 L431.6 1296.9 L436.1 1296.9 L440.6 1296.8 L445.1 1296.8 L449.6 1296.7 L454.0 1296.6 L458.5 1296.5 L463.0 1296.5 L467.5 1296.4 L472.0 1296.3 L476.4 1296.1 L480.9 1296.0 L485.4 1295.8 L489.9 1295.7 L494.4 1295.5 L498.9 1295.3 L503.3 1295.1 L507.8 1294.9 L512.3 1294.6 L516.8 1294.3 L521.3 1294.0 L525.7 1293.7 L530.2 1293.4 L534.7 1293.0 L539.2 1292.6 L543.7 1292.2 L548.2 1291.7 L552.6 1291.2 L557.1 1290.7 L561.6 1290.1 L566.1 1289.5 L570.6 1288.9 L575.0 1288.2 L579.5 1287.5 L584.0 1286.8 L588.5 1286.0 L593.0 1285.1 L597.5 1284.2 L601.9 1283.3 L606.4 1282.3 L610.9 1281.2 L615.4 1280.1 L619.9 1279.0 L624.3 1277.8 L628.8 1276.5 L633.3 1275.1 L637.8 1273.7 L642.3 1272.3 L646.7 1270.7 L651.2 1269.1 L655.7 1267.4 L660.2 1265.7 L664.7 1263.9 L669.2 1261.9 L673.6 1260.0 L678.1 1257.9 L682.6 1255.7 L687.1 1253.5 L691.6 1251.2 L696.0 1248.8 L700.5 1246.2 L705.0 1243.6 L709.5 1240.9 L714.0 1238.1 L718.5 1235.2 L722.9 1232.2 L727.4 1229.1 L731.9 1225.9 L736.4 1222.6 L740.9 1219.2 L745.3 1215.6 L749.8 1212.0 L754.3 1208.2 L758.8 1204.3 L763.3 1200.3 L767.8 1196.2 L772.2 1191.9 L776.7 1187.6 L781.2 1183.1 L785.7 1178.4 L790.2 1173.7 L794.6 1168.8 L799.1 1163.8 L803.6 1158.6 L808.1 1153.4 L812.6 1148.0 L817.1 1142.4 L821.5 1136.7 L826.0 1130.9 L830.5 1125.0 L835.0 1118.9 L839.5 1112.7 L843.9 1106.3 L848.4 1099.8 L852.9 1093.2 L857.4 1086.4 L861.9 1079.5 L866.3 1072.4 L870.8 1065.2 L875.3 1057.9 L879.8 1050.4 L884.3 1042.8 L888.8 1035.1 L893.2 1027.2 L897.7 1019.2 L902.2 1011.1 L906.7 1002.9 L911.2 994.5 L915.6 986.0 L920.1 977.3 L924.6 968.6 L929.1 959.7 L933.6 950.7 L938.1 941.6 L942.5 932.3 L947.0 923.0 L951.5 913.6 L956.0 904.0 L960.5 894.4 L964.9 884.6 L969.4 874.8 L973.9 864.9 L978.4 854.9 L982.9 844.8 L987.4 834.6 L991.8 824.4 L996.3 814.1 L1000.8 803.7 L1005.3 793.3 L1009.8 782.8 L1014.2 772.2 L1018.7 761.6 L1023.2 751.0 L1027.7 740.4 L1032.2 729.7 L1036.6 719.0 L1041.1 708.2 L1045.6 697.5 L1050.1 686.7 L1054.6 676.0 L1059.1 665.2 L1063.5 654.5 L1068.0 643.8 L1072.5 633.1 L1077.0 622.4 L1081.5 611.8 L1085.9 601.1 L1090.4 590.6 L1094.9 580.1 L1099.4 569.6 L1103.9 559.2 L1108.4 548.9 L1112.8 538.6 L1117.3 528.4 L1121.8 518.3 L1126.3 508.3 L1130.8 498.4 L1135.2 488.6 L1139.7 478.9 L1144.2 469.3 L1148.7 459.8 L1153.2 450.4 L1157.7 441.1 L1162.1 432.0 L1166.6 423.0 L1171.1 414.1 L1175.6 405.4 L1180.1 396.8 L1184.5 388.3 L1189.0 380.0 L1193.5 371.9 L1198.0 363.9 L1202.5 356.0 L1206.9 348.4 L1211.4 340.8 L1215.9 333.5 L1220.4 326.3 L1224.9 319.2 L1229.4 312.4 L1233.8 305.6 L1238.3 299.1 L1242.8 292.7 L1247.3 286.5 L1251.8 280.5 L1256.2 274.6 L1260.7 269.0 L1265.2 263.4 L1269.7 258.1 L1274.2 252.9 L1278.7 247.8 L1283.1 243.0 L1287.6 238.3 L1292.1 233.7 L1296.6 229.3 L1301.1 225.1 L1305.5 221.0 L1310.0 217.1 L1314.5 213.3 L1319.0 209.7 L1323.5 206.2 L1328.0 202.9 L1332.4 199.7 L1336.9 196.6 L1341.4 193.7 L1345.9 190.9 L1350.4 188.2 L1354.8 185.6 L1359.3 183.2 L1363.8 180.9 L1368.3 178.7 L1372.8 176.5 L1377.3 174.6 L1381.7 172.7 L1386.2 170.9 L1390.7 169.2 L1395.2 167.6 L1399.7 166.0 L1404.1 164.6 L1408.6 163.2 L1413.1 162.0 L1417.6 160.8 L1422.1 159.6 L1426.5 158.6 L1431.0 157.6 L1435.5 156.6 L1440.0 155.8 L1444.5 155.0 L1449.0 154.2 L1453.4 153.5 L1457.9 152.8 L1462.4 152.2 L1466.9 151.6 L1471.4 151.1 L1475.8 150.6 L1480.3 150.1 L1484.8 149.7 L1489.3 149.3 L1493.8 149.0 L1498.3 148.6 L1502.7 148.3 L1507.2 148.0 L1511.7 147.8 L1516.2 147.5 L1520.7 147.3 L1525.1 147.1 L1529.6 146.9 L1534.1 146.7 L1538.6 146.6 L1543.1 146.5 L1547.6 146.3 L1552.0 146.2 L1556.5 146.1 L1561.0 146.0 L1565.5 145.9 L1570.0 145.8 L1574.4 145.8 L1578.9 145.7 L1583.4 145.7 L1587.9 145.6 L1592.4 145.6 L1596.8 145.5 L1601.3 145.5 L1605.8 145.4 L1610.3 145.4 L1614.8 145.4 L1619.3 145.4 L1623.7 145.3 L1628.2 145.3 L1632.7 145.3 L1637.2 145.3 L1641.7 145.3 L1646.1 145.3 L1650.6 145.3 L1655.1 145.3 L1659.6 145.3 L1664.1 145.2 L1668.6 145.2 L1673.0 145.2 L1677.5 145.2 L1682.0 145.2"/>
<path d="M351.0 1297.1 L355.4 1297.1 L359.8 1297.1 L364.1 1297.1 L368.5 1297.1 L372.9 1297.1 L377.3 1297.1 L381.6 1297.1 L386.0 1297.1 L390.4 1297.1 L394.8 1297.1 L399.2 1297.1 L403.5 1297.0 L407.9 1297.0 L412.3 1297.0 L416.7 1297.0 L421.0 1296.9 L425.4 1296.9 L429.8 1296.9 L434.2 1296.8 L438.6 1296.7 L442.9 1296.7 L447.3 1296.6 L451.7 1296.5 L456.1 1296.4 L460.4 1296.3 L464.8 1296.1 L469.2 1296.0 L473.6 1295.8 L478.0 1295.6 L482.3 1295.4 L486.7 1295.1 L491.1 1294.9 L495.5 1294.6 L499.8 1294.3 L504.2 1293.9 L508.6 1293.5 L513.0 1293.1 L517.4 1292.6 L521.7 1292.1 L526.1 1291.6 L530.5 1291.0 L534.9 1290.4 L539.3 1289.7 L543.6 1289.0 L548.0 1288.2 L552.4 1287.3 L556.8 1286.4 L561.1 1285.5 L565.5 1284.4 L569.9 1283.3 L574.3 1282.1 L578.7 1280.9 L583.0 1279.5 L587.4 1278.1 L591.8 1276.6 L596.2 1275.0 L600.5 1273.3 L604.9 1271.5 L609.3 1269.6 L613.7 1267.6 L618.1 1265.5 L622.4 1263.3 L626.8 1261.0 L631.2 1258.5 L635.6 1256.0 L639.9 1253.3 L644.3 1250.4 L648.7 1247.5 L653.1 1244.3 L657.5 1241.1 L661.8 1237.7 L666.2 1234.1 L670.6 1230.4 L675.0 1226.6 L679.3 1222.5 L683.7 1218.3 L688.1 1214.0 L692.5 1209.4 L696.9 1204.7 L701.2 1199.8 L705.6 1194.7 L710.0 1189.5 L714.4 1184.0 L718.7 1178.4 L723.1 1172.5 L727.5 1166.5 L731.9 1160.2 L736.3 1153.8 L740.6 1147.1 L745.0 1140.2 L749.4 1133.1 L753.8 1125.8 L758.1 1118.3 L762.5 1110.6 L766.9 1102.7 L771.3 1094.5 L775.7 1086.1 L780.0 1077.6 L784.4 1068.7 L788.8 1059.7 L793.2 1050.5 L797.5 1041.0 L801.9 1031.3 L806.3 1021.5 L810.7 1011.4 L815.1 1001.1 L819.4 990.6 L823.8 979.9 L828.2 969.0 L832.6 957.9 L836.9 946.6 L841.3 935.1 L845.7 923.5 L850.1 911.6 L854.5 899.7 L858.8 887.5 L863.2 875.2 L867.6 862.7 L872.0 850.2 L876.4 837.4 L880.7 824.6 L885.1 811.6 L889.5 798.5 L893.9 785.4 L898.2 772.1 L902.6 758.8 L907.0 745.4 L911.4 731.9 L915.8 718.4 L920.1 704.8 L924.5 691.3 L928.9 677.7 L933.3 664.1 L937.6 650.5 L942.0 636.9 L946.4 623.4 L950.8 609.9 L955.2 596.5 L959.5 583.1 L963.9 569.9 L968.3 556.7 L972.7 543.6 L977.0 530.6 L981.4 517.8 L985.8 505.1 L990.2 492.5 L994.6 480.1 L998.9 467.9 L1003.3 455.8 L1007.7 443.9 L1012.1 432.2 L1016.4 420.8 L1020.8 409.5 L1025.2 398.5 L1029.6 387.7 L1034.0 377.1 L1038.3 366.8 L1042.7 356.7 L1047.1 346.9 L1051.5 337.3 L1055.8 328.0 L1060.2 319.0 L1064.6 310.2 L1069.0 301.7 L1073.4 293.5 L1077.7 285.5 L1082.1 277.9 L1086.5 270.5 L1090.9 263.3 L1095.2 256.5 L1099.6 249.9 L1104.0 243.6 L1108.4 237.5 L1112.8 231.7 L1117.1 226.2 L1121.5 220.9 L1125.9 215.9 L1130.3 211.1 L1134.6 206.6 L1139.0 202.3 L1143.4 198.2 L1147.8 194.3 L1152.2 190.7 L1156.5 187.3 L1160.9 184.0 L1165.3 181.0 L1169.7 178.2 L1174.1 175.5 L1178.4 173.0 L1182.8 170.7 L1187.2 168.5 L1191.6 166.5 L1195.9 164.6 L1200.3 162.9 L1204.7 161.2 L1209.1 159.8 L1213.5 158.4 L1217.8 157.1 L1222.2 156.0 L1226.6 154.9 L1231.0 153.9 L1235.3 153.0 L1239.7 152.2 L1244.1 151.5 L1248.5 150.8 L1252.9 150.2 L1257.2 149.6 L1261.6 149.1 L1266.0 148.7 L1270.4 148.3 L1274.7 147.9 L1279.1 147.6 L1283.5 147.3 L1287.9 147.0 L1292.3 146.8 L1296.6 146.6 L1301.0 146.4 L1305.4 146.3 L1309.8 146.1 L1314.1 146.0 L1318.5 145.9 L1322.9 145.8 L1327.3 145.7 L1331.7 145.6 L1336.0 145.6 L1340.4 145.5 L1344.8 145.5 L1349.2 145.4 L1353.5 145.4 L1357.9 145.4 L1362.3 145.3 L1366.7 145.3 L1371.1 145.3 L1375.4 145.3 L1379.8 145.3 L1384.2 145.3 L1388.6 145.2 L1392.9 145.2 L1397.3 145.2 L1401.7 145.2 L1406.1 145.2 L1410.5 145.2 L1414.8 145.2 L1419.2 145.2 L1423.6 145.2 L1428.0 145.2 L1432.3 145.2 L1436.7 145.2 L1441.1 145.2 L1445.5 145.2 L1449.9 145.2 L1454.2 145.2 L1458.6 145.2 L1463.0 145.2 L1467.4 145.2 L1471.7 145.2 L1476.1 145.2 L1480.5 145.2 L1484.9 145.2 L1489.3 145.2 L1493.6 145.2 L1498.0 145.2 L1502.4 145.2 L1506.8 145.2 L1511.2 145.2 L1515.5 145.2 L1519.9 145.2 L1524.3 145.2 L1528.7 145.2 L1533.0 145.2 L1537.4 145.2 L1541.8 145.2 L1546.2 145.2 L1550.6 145.2 L1554.9 145.2 L1559.3 145.2 L1563.7 145.2 L1568.1 145.2 L1572.4 145.2 L1576.8 145.2 L1581.2 145.2 L1585.6 145.2 L1590.0 145.2 L1594.3 145.2 L1598.7 145.2 L1603.1 145.2 L1607.5 145.2 L1611.8 145.2 L1616.2 145.2 L1620.6 145.2 L1625.0 145.2 L1629.4 145.2 L1633.7 145.2 L1638.1 145.2 L1642.5 145.2 L1646.9 145.2 L1651.2 145.2 L1655.6 145.2 L1660.0 145.2"/>
<path d="M336.0 1297.1 L340.4 1297.1 L344.9 1297.1 L349.3 1297.1 L353.8 1297.1 L358.2 1297.1 L362.6 1297.1 L367.1 1297.1 L371.5 1297.1 L376.0 1297.1 L380.4 1297.1 L384.9 1297.0 L389.3 1297.0 L393.7 1297.0 L398.2 1297.0 L402.6 1297.0 L407.1 1296.9 L411.5 1296.9 L415.9 1296.8 L420.4 1296.8 L424.8 1296.7 L429.3 1296.7 L433.7 1296.6 L438.2 1296.5 L442.6 1296.4 L447.0 1296.3 L451.5 1296.2 L455.9 1296.0 L460.4 1295.9 L464.8 1295.7 L469.2 1295.5 L473.7 1295.3 L478.1 1295.1 L482.6 1294.8 L487.0 1294.5 L491.5 1294.2 L495.9 1293.9 L500.3 1293.5 L504.8 1293.1 L509.2 1292.6 L513.7 1292.2 L518.1 1291.6 L522.5 1291.1 L527.0 1290.5 L531.4 1289.8 L535.9 1289.1 L540.3 1288.3 L544.7 1287.5 L549.2 1286.6 L553.6 1285.6 L558.1 1284.6 L562.5 1283.5 L567.0 1282.4 L571.4 1281.1 L575.8 1279.8 L580.3 1278.4 L584.7 1276.9 L589.2 1275.3 L593.6 1273.6 L598.0 1271.8 L602.5 1269.9 L606.9 1267.9 L611.4 1265.8 L615.8 1263.5 L620.3 1261.2 L624.7 1258.7 L629.1 1256.0 L633.6 1253.3 L638.0 1250.4 L642.5 1247.3 L646.9 1244.1 L651.3 1240.7 L655.8 1237.2 L660.2 1233.5 L664.7 1229.6 L669.1 1225.6 L673.6 1221.4 L678.0 1217.0 L682.4 1212.4 L686.9 1207.6 L691.3 1202.6 L695.8 1197.4 L700.2 1191.9 L704.6 1186.3 L709.1 1180.5 L713.5 1174.4 L718.0 1168.1 L722.4 1161.6 L726.8 1154.8 L731.3 1147.8 L735.7 1140.6 L740.2 1133.1 L744.6 1125.3 L749.1 1117.3 L753.5 1109.1 L757.9 1100.6 L762.4 1091.9 L766.8 1082.9 L771.3 1073.6 L775.7 1064.1 L780.1 1054.3 L784.6 1044.3 L789.0 1034.0 L793.5 1023.5 L797.9 1012.7 L802.4 1001.6 L806.8 990.3 L811.2 978.8 L815.7 967.0 L820.1 955.0 L824.6 942.8 L829.0 930.3 L833.4 917.6 L837.9 904.7 L842.3 891.6 L846.8 878.3 L851.2 864.8 L855.7 851.1 L860.1 837.3 L864.5 823.3 L869.0 809.1 L873.4 794.8 L877.9 780.4 L882.3 765.9 L886.7 751.2 L891.2 736.5 L895.6 721.7 L900.1 706.9 L904.5 692.0 L908.9 677.0 L913.4 662.1 L917.8 647.1 L922.3 632.2 L926.7 617.3 L931.2 602.4 L935.6 587.7 L940.0 573.0 L944.5 558.3 L948.9 543.8 L953.4 529.5 L957.8 515.2 L962.2 501.2 L966.7 487.3 L971.1 473.6 L975.6 460.1 L980.0 446.8 L984.5 433.8 L988.9 421.0 L993.3 408.4 L997.8 396.1 L1002.2 384.1 L1006.7 372.4 L1011.1 361.0 L1015.5 349.9 L1020.0 339.1 L1024.4 328.6 L1028.9 318.5 L1033.3 308.7 L1037.8 299.2 L1042.2 290.0 L1046.6 281.2 L1051.1 272.8 L1055.5 264.7 L1060.0 256.9 L1064.4 249.5 L1068.8 242.4 L1073.3 235.6 L1077.7 229.2 L1082.2 223.1 L1086.6 217.3 L1091.1 211.8 L1095.5 206.6 L1099.9 201.8 L1104.4 197.2 L1108.8 192.9 L1113.3 188.9 L1117.7 185.1 L1122.1 181.6 L1126.6 178.3 L1131.0 175.3 L1135.5 172.4 L1139.9 169.8 L1144.3 167.4 L1148.8 165.2 L1153.2 163.2 L1157.7 161.3 L1162.1 159.6 L1166.6 158.1 L1171.0 156.7 L1175.4 155.4 L1179.9 154.2 L1184.3 153.2 L1188.8 152.2 L1193.2 151.4 L1197.6 150.6 L1202.1 149.9 L1206.5 149.3 L1211.0 148.8 L1215.4 148.3 L1219.9 147.9 L1224.3 147.5 L1228.7 147.2 L1233.2 146.9 L1237.6 146.7 L1242.1 146.5 L1246.5 146.3 L1250.9 146.1 L1255.4 146.0 L1259.8 145.8 L1264.3 145.7 L1268.7 145.7 L1273.2 145.6 L1277.6 145.5 L1282.0 145.5 L1286.5 145.4 L1290.9 145.4 L1295.4 145.3 L1299.8 145.3 L1304.2 145.3 L1308.7 145.3 L1313.1 145.3 L1317.6 145.3 L1322.0 145.2 L1326.4 145.2 L1330.9 145.2 L1335.3 145.2 L1339.8 145.2 L1344.2 145.2 L1348.7 145.2 L1353.1 145.2 L1357.5 145.2 L1362.0 145.2 L1366.4 145.2 L1370.9 145.2 L1375.3 145.2 L1379.7 145.2 L1384.2 145.2 L1388.6 145.2 L1393.1 145.2 L1397.5 145.2 L1402.0 145.2 L1406.4 145.2 L1410.8 145.2 L1415.3 145.2 L1419.7 145.2 L1424.2 145.2 L1428.6 145.2 L1433.0 145.2 L1437.5 145.2 L1441.9 145.2 L1446.4 145.2 L1450.8 145.2 L1455.3 145.2 L1459.7 145.2 L1464.1 145.2 L1468.6 145.2 L1473.0 145.2 L1477.5 145.2 L1481.9 145.2 L1486.3 145.2 L1490.8 145.2 L1495.2 145.2 L1499.7 145.2 L1504.1 145.2 L1508.5 145.2 L1513.0 145.2 L1517.4 145.2 L1521.9 145.2 L1526.3 145.2 L1530.8 145.2 L1535.2 145.2 L1539.6 145.2 L1544.1 145.2 L1548.5 145.2 L1553.0 145.2 L1557.4 145.2 L1561.8 145.2 L1566.3 145.2 L1570.7 145.2 L1575.2 145.2 L1579.6 145.2 L1584.1 145.2 L1588.5 145.2 L1592.9 145.2 L1597.4 145.2 L1601.8 145.2 L1606.3 145.2 L1610.7 145.2 L1615.1 145.2 L1619.6 145.2 L1624.0 145.2 L1628.5 145.2 L1632.9 145.2 L1637.4 145.2 L1641.8 145.2 L1646.2 145.2 L1650.7 145.2 L1655.1 145.2 L1659.6 145.2 L1664.0 145.2"/>
</g>
</g>
<g class="tick" text-anchor="middle">
<text transform="translate(334.4 1397.8) scale(1.060 1)">0.0</text>
<text transform="translate(548.6 1397.8) scale(1.060 1)">0.5</text>
<text transform="translate(762.8 1397.8) scale(1.060 1)">1.0</text>
<text transform="translate(976.9 1397.8) scale(1.060 1)">1.5</text>
<text transform="translate(1191.1 1397.8) scale(1.060 1)">2.0</text>
<text transform="translate(1405.3 1397.8) scale(1.060 1)">2.5</text>
<text transform="translate(1619.5 1397.8) scale(1.060 1)">3.0</text>
<text transform="translate(1833.6 1397.8) scale(1.060 1)">3.5</text>
<text transform="translate(2047.8 1397.8) scale(1.060 1)">4.0</text>
</g>
<g class="tick" text-anchor="end">
<text transform="translate(293.2 1314.7) scale(1.060 1)">0.0</text>
<text transform="translate(293.2 1084.3) scale(1.060 1)">0.2</text>
<text transform="translate(293.2 853.9) scale(1.060 1)">0.4</text>
<text transform="translate(293.2 623.6) scale(1.060 1)">0.6</text>
<text transform="translate(293.2 393.2) scale(1.060 1)">0.8</text>
<text transform="translate(293.2 162.8) scale(1.060 1)">1.0</text>
</g>
<text class="ttl" font-size="97.5" text-anchor="middle" x="1190.3" y="1559.3">t (min)</text>
<text class="ttl" font-size="104" text-anchor="end" letter-spacing="0.31" transform="translate(106.8 202.4) rotate(-90) scale(0.962 1)">Relative crystallinity</text>
<rect x="1670.5" y="731.5" width="361" height="548" fill="#fff" stroke="#000" stroke-width="2.2"/>
<text class="leg" transform="translate(1762.9 798.3) scale(1.019 1)">PLA/PEG</text>
<circle cx="1749.8" cy="856.8" r="20.7" fill="#000000"/>
<text class="leg" transform="translate(1814.3 875.4) scale(1.017 1)">100/0</text>
<circle cx="1749.8" cy="934.2" r="20.7" fill="#ff0000"/>
<text class="leg" transform="translate(1814.3 952.8) scale(1.017 1)">99/01</text>
<circle cx="1749.8" cy="1011.6" r="20.7" fill="#0000ff"/>
<text class="leg" transform="translate(1814.3 1030.2) scale(1.017 1)">98/02</text>
<circle cx="1749.8" cy="1089.0" r="20.7" fill="#00ff00"/>
<text class="leg" transform="translate(1814.3 1107.6) scale(1.017 1)">95/05</text>
<circle cx="1749.8" cy="1166.4" r="20.7" fill="#ff00ff"/>
<text class="leg" transform="translate(1814.3 1185.0) scale(1.017 1)">90/10</text>
<circle cx="1749.8" cy="1243.8" r="20.7" fill="#00ffff"/>
<text class="leg" transform="translate(1814.3 1262.4) scale(1.017 1)">85/15</text>
</svg></body></html>
